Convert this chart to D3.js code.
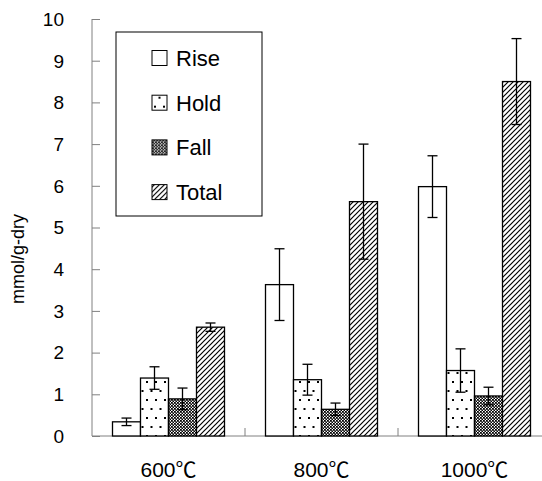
<!DOCTYPE html>
<meta charset="utf-8">
<style>
body { margin: 0; background: #fff; }
svg { font-family: "Liberation Sans", Arial, "Noto Sans CJK JP", sans-serif; }
.axis path, .axis line { stroke: #808080; }
.bar { stroke: #000; stroke-width: 1.3; }
.err { stroke: #000; stroke-width: 1.3; }
</style>
<body>
<div id="chart"></div>
<script src="https://cdn.jsdelivr.net/npm/d3@7"></script>
<script>

var categories = ["600℃", "800℃", "1000℃"];
var series = ["Rise", "Hold", "Fall", "Total"];
var rise  = [0.34, 3.63, 5.98];
var hold  = [1.39, 1.35, 1.57];
var fall  = [0.89, 0.64, 0.96];
var total = [2.61, 5.62, 8.50];
var riseErr  = [0.09, 0.86, 0.74];
var holdErr  = [0.27, 0.37, 0.52];
var fallErr  = [0.26, 0.15, 0.21];
var totalErr = [0.10, 1.38, 1.03];
var yTicks = [0, 1, 2, 3, 4, 5, 6, 7, 8, 9, 10];

var width = 542, height = 481;

var values = {Rise: rise, Hold: hold, Fall: fall, Total: total};
var errors = {Rise: riseErr, Hold: holdErr, Fall: fallErr, Total: totalErr};

var svg = d3.select("#chart").append("svg")
    .attr("width", width)
    .attr("height", height);

// patterns
var defs = svg.append("defs");

var pDots = defs.append("pattern").attr("id", "p-hold")
    .attr("patternUnits", "userSpaceOnUse").attr("width", 9).attr("height", 18);
pDots.append("rect").attr("width", 9).attr("height", 18).attr("fill", "#fff");
pDots.append("rect").attr("x", 2).attr("y", 3).attr("width", 2).attr("height", 2).attr("fill", "#000");
pDots.append("rect").attr("x", 6.5).attr("y", 12).attr("width", 2).attr("height", 2).attr("fill", "#000");

var pCheck = defs.append("pattern").attr("id", "p-fall")
    .attr("patternUnits", "userSpaceOnUse").attr("width", 3).attr("height", 3);
pCheck.append("rect").attr("width", 3).attr("height", 3).attr("fill", "#fff");
pCheck.append("path").attr("d", "M0,0h1.8v1.8h-1.8z M1.5,1.5h1.8v1.8h-1.8z").attr("fill", "#000");

var pDiag = defs.append("pattern").attr("id", "p-total")
    .attr("patternUnits", "userSpaceOnUse").attr("width", 5).attr("height", 5);
pDiag.append("rect").attr("width", 5).attr("height", 5).attr("fill", "#fff");
pDiag.append("path").attr("d", "M-1,6 L6,-1 M-1,1 L1,-1 M4,6 L6,4")
    .attr("stroke", "#000").attr("stroke-width", 1.2);

var fills = {Rise: "#fff", Hold: "url(#p-hold)", Fall: "url(#p-fall)", Total: "url(#p-total)"};

var x = d3.scaleBand()
    .domain(categories)
    .range([92, 551]);

var y = d3.scaleLinear()
    .domain([0, 10])
    .range([436, 19]);

var xs = d3.scaleBand()
    .domain(series)
    .range([-56, 56]);

// y axis
svg.append("g")
    .attr("class", "axis")
    .attr("transform", "translate(92,0)")
    .call(d3.axisRight(y).tickValues(yTicks).tickSize(8).tickFormat(""))
    .call(function(g) { g.select(".domain").attr("d", "M0," + y(10) + "V" + y(0)); });

svg.selectAll(".ylab")
    .data(yTicks)
  .enter().append("text")
    .attr("class", "ylab")
    .attr("x", 64)
    .attr("y", function(d) { return y(d); })
    .attr("dy", "0.36em")
    .attr("text-anchor", "end")
    .style("font-size", "19px")
    .text(function(d) { return d; });

// x axis
svg.append("line")
    .attr("x1", 92).attr("x2", width)
    .attr("y1", y(0)).attr("y2", y(0))
    .attr("stroke", "#808080");

svg.selectAll(".xtick")
    .data(categories.slice(1))
  .enter().append("line")
    .attr("x1", function(d) { return x(d); })
    .attr("x2", function(d) { return x(d); })
    .attr("y1", y(0)).attr("y2", y(0) - 8)
    .attr("stroke", "#808080");

svg.selectAll(".xlab")
    .data(categories)
  .enter().append("text")
    .attr("x", function(d) { return x(d) + x.bandwidth() / 2; })
    .attr("y", 477)
    .attr("text-anchor", "middle")
    .style("font-size", "21px")
    .text(function(d) { return d; });

svg.append("text")
    .attr("transform", "translate(24,259) rotate(-90)")
    .attr("text-anchor", "middle")
    .style("font-size", "18px")
    .text("mmol/g-dry");

// bars
var flat = [];
categories.forEach(function(c, i) {
  series.forEach(function(s) {
    flat.push({cat: c, s: s, v: values[s][i], e: errors[s][i]});
  });
});

svg.selectAll(".bar")
    .data(flat)
  .enter().append("rect")
    .attr("class", "bar")
    .attr("x", function(d) { return x(d.cat) + x.bandwidth() / 2 + xs(d.s); })
    .attr("y", function(d) { return y(d.v); })
    .attr("width", xs.bandwidth())
    .attr("height", function(d) { return y(0) - y(d.v); })
    .attr("fill", function(d) { return fills[d.s]; });

var err = svg.selectAll(".errg")
    .data(flat)
  .enter().append("g")
    .attr("class", "err")
    .attr("transform", function(d) { return "translate(" + (x(d.cat) + x.bandwidth() / 2 + xs(d.s) + xs.bandwidth() / 2) + ",0)"; });

err.append("line")
    .attr("y1", function(d) { return y(d.v - d.e); })
    .attr("y2", function(d) { return y(d.v + d.e); });
err.append("line")
    .attr("x1", -5).attr("x2", 5)
    .attr("y1", function(d) { return y(d.v + d.e); })
    .attr("y2", function(d) { return y(d.v + d.e); });
err.append("line")
    .attr("x1", -5).attr("x2", 5)
    .attr("y1", function(d) { return y(d.v - d.e); })
    .attr("y2", function(d) { return y(d.v - d.e); });

// legend
svg.append("rect")
    .attr("x", 116).attr("y", 32)
    .attr("width", 146).attr("height", 184)
    .attr("fill", "#fff")
    .attr("stroke", "#000")
    .attr("stroke-width", 1);

var leg = svg.selectAll(".leg")
    .data(series)
  .enter().append("g")
    .attr("transform", function(d, i) { return "translate(152," + (58 + i * 44.7) + ")"; });

leg.append("rect")
    .attr("x", 0).attr("y", -7.5)
    .attr("width", 15).attr("height", 15)
    .attr("fill", function(d) { return fills[d]; })
    .attr("stroke", "#000");

leg.append("text")
    .attr("x", 24)
    .attr("dy", "0.36em")
    .style("font-size", "22px")
    .text(function(d) { return d; });

</script>
</body>
